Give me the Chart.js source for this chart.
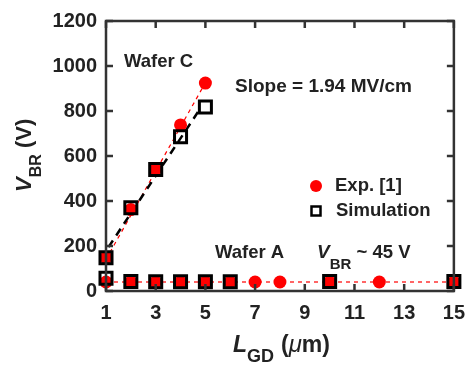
<!DOCTYPE html>
<html lang="en">
<head>
<meta charset="UTF-8">
<title>VBR vs LGD</title>
<script src="https://cdn.jsdelivr.net/npm/chart.js"></script>
<style>
  html, body { margin: 0; padding: 0; background: #fff; }
</style>
</head>
<body>
<canvas id="chart" width="475" height="365"></canvas>
<script>
// tick labels
const xTicks = [1, 3, 5, 7, 9, 11, 13, 15];
const yTicks = [0, 200, 400, 600, 800, 1000, 1200];

// Exp. [1] - wafer A and wafer C
const expAx = [1, 2, 3, 4, 5, 6, 7, 8, 10, 12, 15];
const expAy = [40, 40, 40, 40, 40, 40, 40, 40, 40, 40, 40];
const expCx = [1, 2, 3, 4, 5];
const expCy = [148, 362, 540, 738, 924];

// Simulation - wafer A and wafer C
const simAx = [1, 2, 3, 4, 5, 6, 10, 15];
const simAy = [57, 42, 41, 41, 41, 41, 42, 42];
const simCx = [1, 2, 3, 4, 5];
const simCy = [148, 370, 540, 686, 818];

// dashed guide lines
const fitExpCx = [1, 5];
const fitExpCy = [140, 926];
const fitSimCx = [1.1, 4.8];
const fitSimCy = [195, 812];
const fitAx = [1, 15];
const fitAy = [40, 40];

const pts = (xs, ys) => xs.map((x, i) => ({ x: x, y: ys[i] }));

const FONT = '"Liberation Sans", Arial, sans-serif';
const INK = '#222';

// frame, mirrored ticks, titles and notes
const decor = {
    id: 'decor',
    afterDraw(chart) {
        const ctx = chart.ctx;
        const a = chart.chartArea;
        const xs = chart.scales.x, ys = chart.scales.y;
        const tl = 7;
        ctx.save();
        ctx.strokeStyle = '#333';
        ctx.lineWidth = 2.5;
        ctx.strokeRect(a.left, a.top, a.right - a.left, a.bottom - a.top);
        ctx.beginPath();
        xTicks.forEach(v => {
            const px = xs.getPixelForValue(v);
            ctx.moveTo(px, a.bottom); ctx.lineTo(px, a.bottom - tl);
            ctx.moveTo(px, a.top); ctx.lineTo(px, a.top + tl);
        });
        yTicks.forEach(v => {
            const py = ys.getPixelForValue(v);
            ctx.moveTo(a.left, py); ctx.lineTo(a.left + tl, py);
            ctx.moveTo(a.right, py); ctx.lineTo(a.right - tl, py);
        });
        ctx.stroke();

        ctx.fillStyle = INK;
        ctx.textBaseline = 'alphabetic';
        ctx.textAlign = 'left';

        // x title
        let x = 233, base = 352;
        ctx.font = 'italic bold 23px ' + FONT;
        ctx.fillText('L', x, base); x += ctx.measureText('L').width;
        ctx.font = 'bold 18px ' + FONT;
        ctx.fillText('GD', x, base + 10); x += ctx.measureText('GD').width + 7;
        ctx.font = 'bold 23px ' + FONT;
        ctx.fillText('(', x, base); x += ctx.measureText('(').width;
        ctx.font = 'italic 24px ' + FONT;
        ctx.fillText('\u03bc', x, base); x += ctx.measureText('\u03bc').width;
        ctx.font = 'bold 23px ' + FONT;
        ctx.fillText('m)', x, base);

        // y title (rotated)
        ctx.save();
        ctx.translate(31, 192);
        ctx.rotate(-Math.PI / 2);
        x = 0;
        ctx.font = 'italic bold 22px ' + FONT;
        ctx.fillText('V', x, 0); x += ctx.measureText('V').width;
        ctx.font = 'bold 16px ' + FONT;
        ctx.fillText('BR', x, 10); x += ctx.measureText('BR').width;
        ctx.font = 'bold 22px ' + FONT;
        ctx.fillText(' (V)', x, 0);
        ctx.restore();

        // notes
        ctx.font = 'bold 18.5px ' + FONT;
        ctx.textBaseline = 'middle';
        ctx.fillText('Wafer C', 124, 62);
        ctx.fillText('Wafer A', 215, 253);
        ctx.font = 'bold 19px ' + FONT;
        ctx.fillText('Slope = 1.94 MV/cm', 235, 87);
        x = 317;
        ctx.font = 'italic bold 19px ' + FONT;
        ctx.fillText('V', x, 253); x += ctx.measureText('V').width;
        ctx.font = 'bold 15px ' + FONT;
        ctx.fillText('BR', x, 265); x += ctx.measureText('BR').width;
        ctx.font = 'bold 18.5px ' + FONT;
        ctx.fillText(' ~ 45 V', x, 253);

        // legend
        ctx.fillStyle = '#ff0000';
        ctx.beginPath();
        ctx.arc(316, 186, 6, 0, Math.PI * 2);
        ctx.fill();
        ctx.strokeStyle = '#000';
        ctx.lineWidth = 2.5;
        ctx.strokeRect(311.5, 206.5, 9, 9);
        ctx.fillStyle = INK;
        ctx.font = 'bold 18.5px ' + FONT;
        ctx.fillText('Exp. [1]', 335, 186);
        ctx.fillText('Simulation', 336, 211);
        ctx.restore();
    }
};

const lineSet = (data, color, width, dash) => ({
    data: data, showLine: true, borderColor: color, borderWidth: width,
    borderDash: dash, pointRadius: 0, fill: false, clip: false
});
const squareSet = data => ({
    data: data, showLine: false, pointStyle: 'rect', pointRadius: 8.5,
    pointBorderWidth: 3, pointBorderColor: '#000',
    pointBackgroundColor: 'rgba(0,0,0,0)', clip: false
});
const dotSet = data => ({
    data: data, showLine: false, pointStyle: 'circle', pointRadius: 6.5,
    pointBorderWidth: 0, pointBackgroundColor: '#ff0000',
    pointBorderColor: '#ff0000', clip: false
});

const tickFont = { family: FONT, size: 20, weight: 'bold' };

new Chart(document.getElementById('chart'), {
    type: 'scatter',
    data: {
        datasets: [
            squareSet(pts(simAx, simAy)),
            squareSet(pts(simCx, simCy)),
            dotSet(pts(expAx, expAy)),
            dotSet(pts(expCx, expCy)),
            lineSet(pts(fitSimCx, fitSimCy), '#000', 2.5, [8, 6]),
            lineSet(pts(fitExpCx, fitExpCy), '#ff0000', 1.2, [4, 4]),
            lineSet(pts(fitAx, fitAy), '#ff0000', 1.2, [4, 4])
        ]
    },
    options: {
        responsive: false,
        animation: false,
        layout: { padding: { top: 16, right: 13, left: 0, bottom: 0 } },
        plugins: { legend: { display: false }, tooltip: { enabled: false } },
        scales: {
            x: {
                type: 'linear', min: 1, max: 15,
                afterBuildTicks: s => { s.ticks = xTicks.map(v => ({ value: v })); },
                afterFit: s => { s.height = 74; },
                grid: { display: false, drawTicks: false },
                border: { display: false },
                ticks: { padding: 10, color: INK, font: tickFont, callback: v => String(v) }
            },
            y: {
                type: 'linear', min: 0, max: 1200,
                afterBuildTicks: s => { s.ticks = yTicks.map(v => ({ value: v })); },
                afterFit: s => { s.width = 106; },
                grid: { display: false, drawTicks: false },
                border: { display: false },
                ticks: { padding: 9, color: INK, font: tickFont, callback: v => String(v) }
            }
        }
    },
    plugins: [decor]
});
</script>
</body>
</html>
